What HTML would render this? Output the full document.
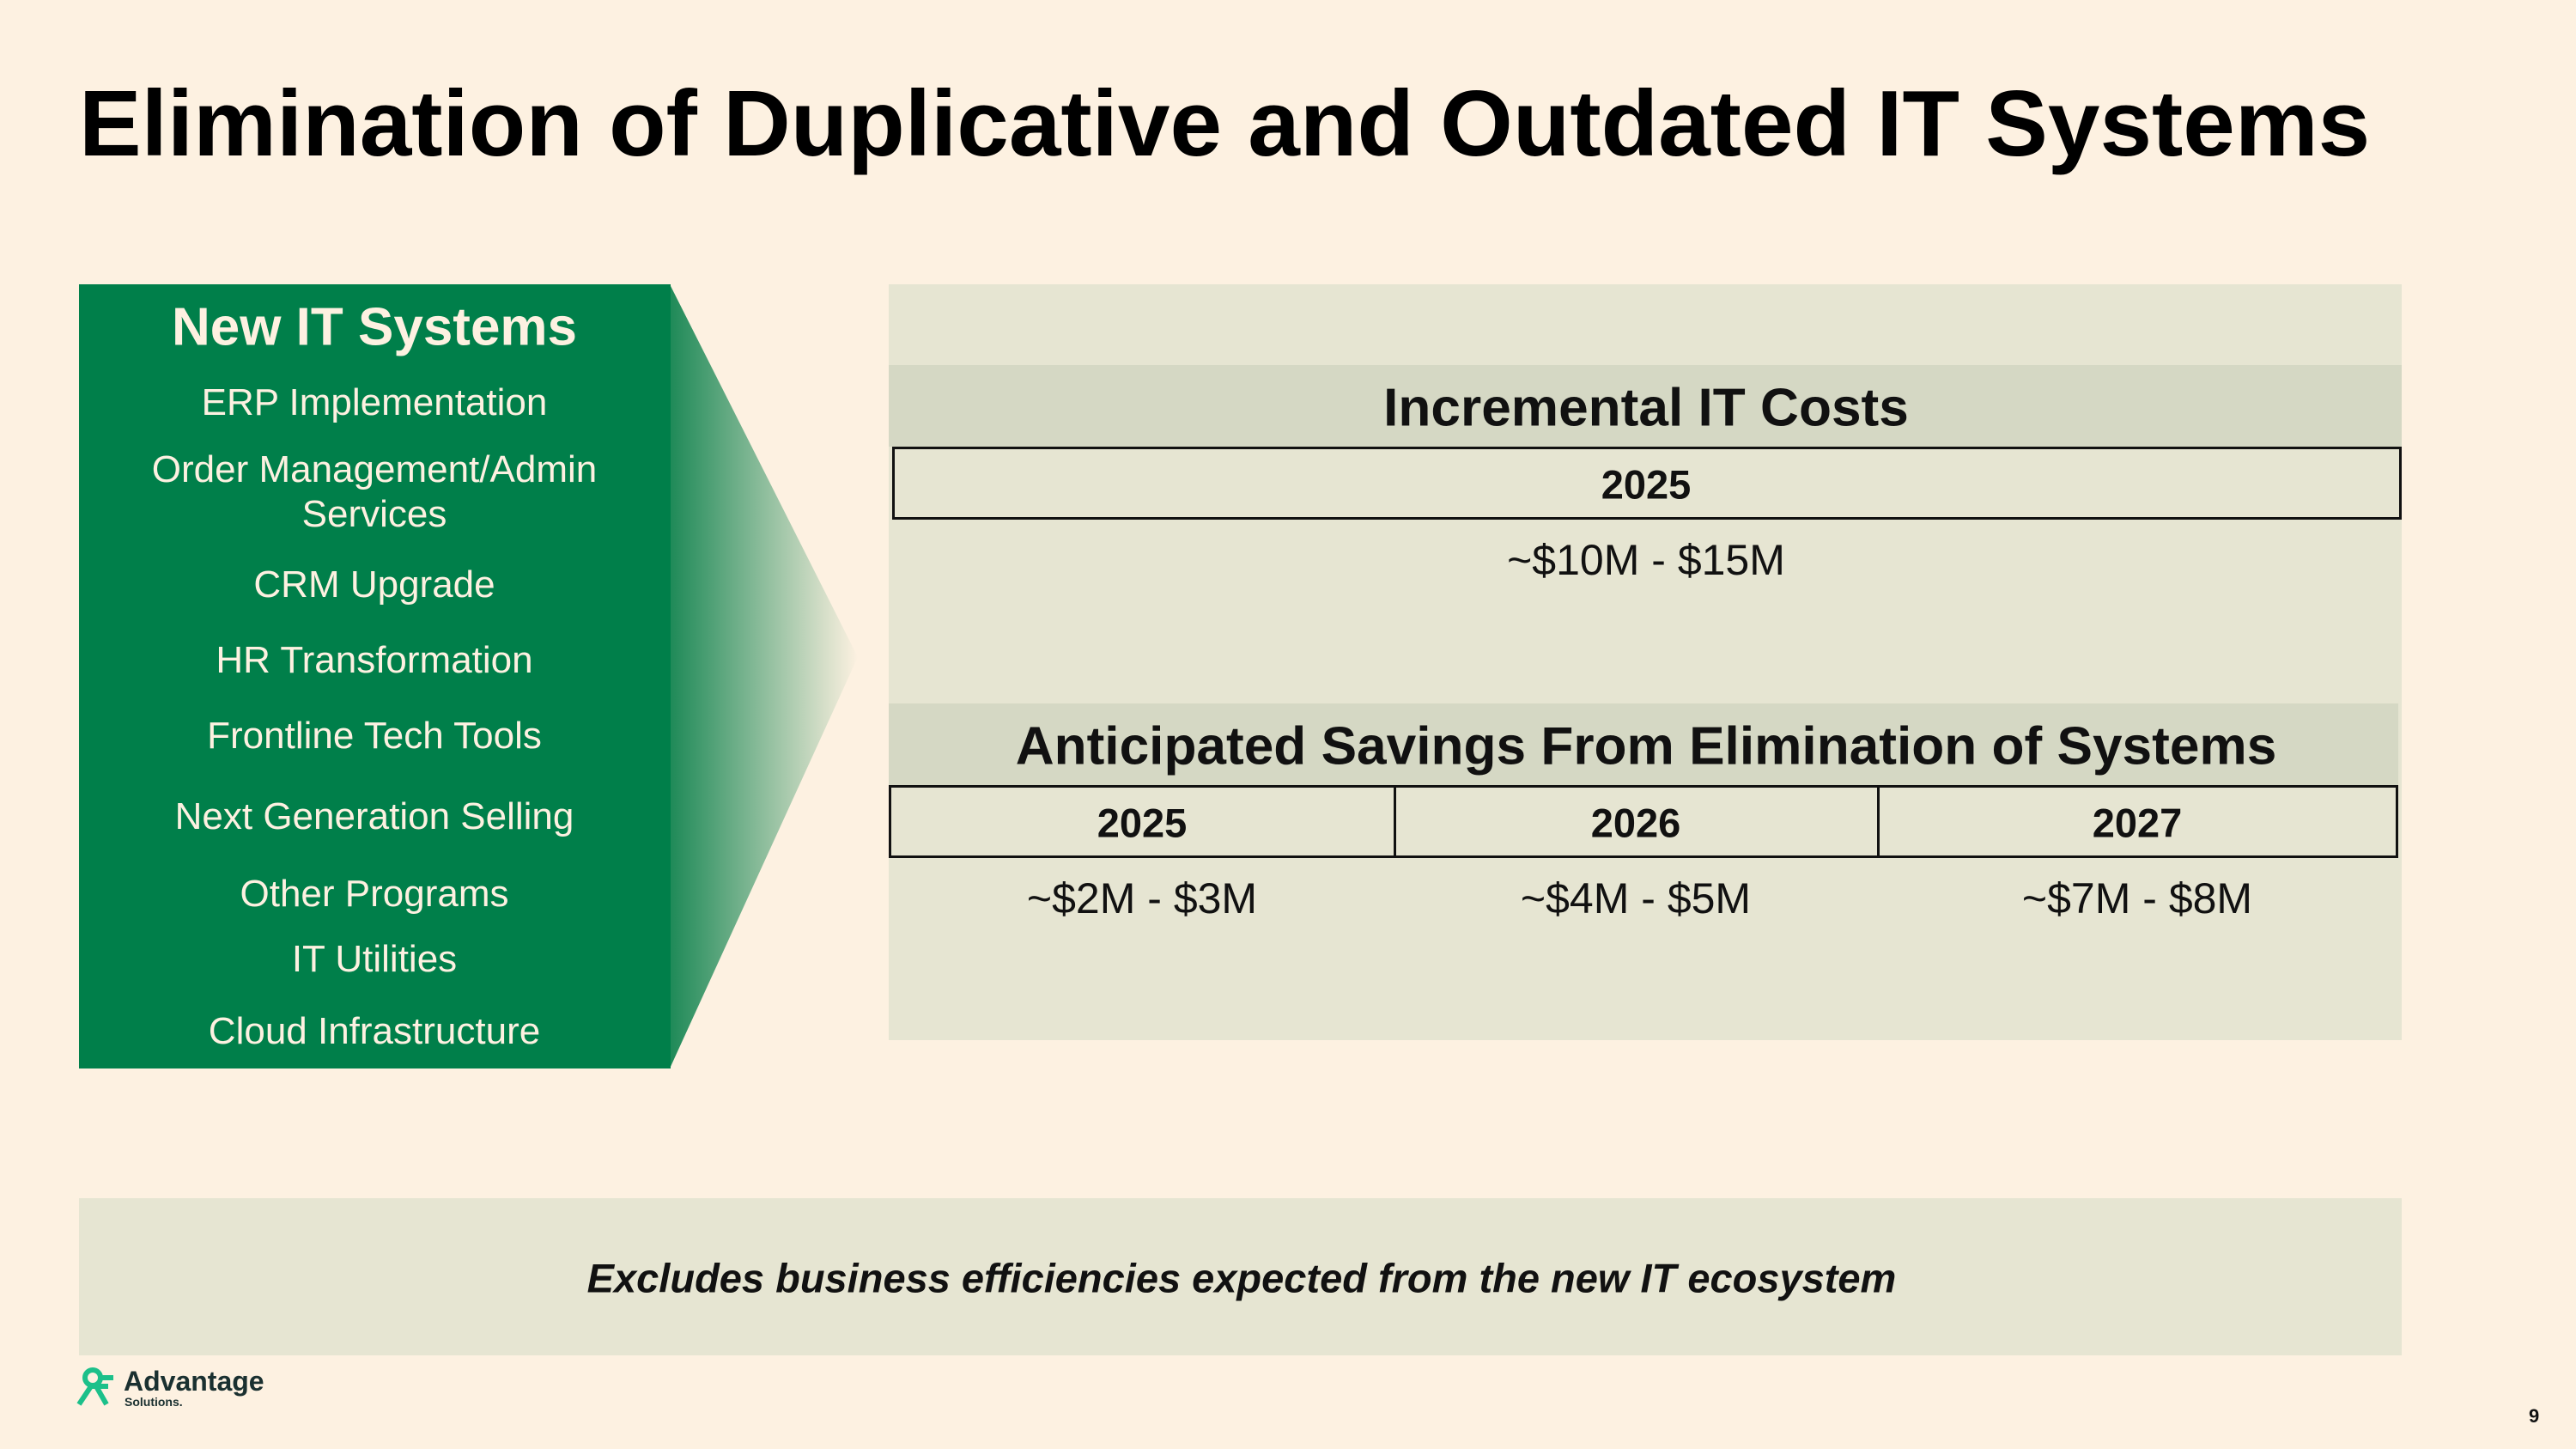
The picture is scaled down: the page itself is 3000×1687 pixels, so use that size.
<!DOCTYPE html>
<html><head><meta charset="utf-8"><style>
body{margin:0;width:3000px;height:1687px;background:#fdf1e1;font-family:"Liberation Sans",Arial,sans-serif;position:relative;overflow:hidden}
.a{position:absolute;white-space:nowrap}
.c{transform:translate(-50%,-50%)}
.li{color:#fdf1e1;font-size:44px;left:436px}
.hd{font-weight:bold;font-size:62.2px;color:#111}
.yr{font-weight:bold;font-size:47px;color:#111}
.v{font-size:50px;color:#111}
</style></head><body>
<div class="a" style="left:92px;top:84px;font-size:108.9px;font-weight:bold;color:#000;line-height:120px">Elimination of Duplicative and Outdated IT Systems</div>

<svg class="a" style="left:0;top:0" width="3000" height="1687">
<defs><linearGradient id="g" x1="781" x2="999" y1="0" y2="0" gradientUnits="userSpaceOnUse"><stop offset="0" stop-color="#1f8a58"/><stop offset="1" stop-color="#fdf1e1"/></linearGradient></defs>
<polygon points="780,331 999,765 780,1244" fill="url(#g)"/>
</svg>
<div class="a" style="left:92px;top:331px;width:689px;height:913px;background:#007f4a"></div>
<div class="a c li" style="top:381px;font-size:62px;font-weight:bold">New IT Systems</div>
<div class="a c li" style="top:469px">ERP Implementation</div>
<div class="a c li" style="top:547px">Order Management/Admin</div>
<div class="a c li" style="top:599px">Services</div>
<div class="a c li" style="top:681px">CRM Upgrade</div>
<div class="a c li" style="top:769px">HR Transformation</div>
<div class="a c li" style="top:857px">Frontline Tech Tools</div>
<div class="a c li" style="top:951px">Next Generation Selling</div>
<div class="a c li" style="top:1041px">Other Programs</div>
<div class="a c li" style="top:1117px">IT Utilities</div>
<div class="a c li" style="top:1201px">Cloud Infrastructure</div>

<div class="a" style="left:1035px;top:331px;width:1762px;height:880px;background:#e6e5d2"></div>
<div class="a" style="left:1035px;top:425px;width:1762px;height:95px;background:#d5d8c4"></div>
<div class="a c hd" style="left:1917px;top:475px">Incremental IT Costs</div>
<div class="a" style="left:1039px;top:520px;width:1752px;height:79px;border:3px solid #111"></div>
<div class="a c yr" style="left:1917px;top:564px">2025</div>
<div class="a c v" style="left:1917px;top:652px">~$10M - $15M</div>

<div class="a" style="left:1035px;top:819px;width:1758px;height:95px;background:#d5d8c4"></div>
<div class="a c hd" style="left:1917px;top:869px">Anticipated Savings From Elimination of Systems</div>
<div class="a" style="left:1035px;top:914px;width:1752px;height:79px;border:3px solid #111"></div>
<div class="a" style="left:1623px;top:914px;width:3px;height:85px;background:#111"></div>
<div class="a" style="left:2186px;top:914px;width:3px;height:85px;background:#111"></div>
<div class="a c yr" style="left:1330px;top:958px">2025</div>
<div class="a c yr" style="left:1905px;top:958px">2026</div>
<div class="a c yr" style="left:2489px;top:958px">2027</div>
<div class="a c v" style="left:1330px;top:1046px">~$2M - $3M</div>
<div class="a c v" style="left:1905px;top:1046px">~$4M - $5M</div>
<div class="a c v" style="left:2489px;top:1046px">~$7M - $8M</div>

<div class="a" style="left:92px;top:1395px;width:2705px;height:183px;background:#e6e5d2"></div>
<div class="a c" style="left:1446px;top:1488px;font-size:47px;font-weight:bold;font-style:italic;color:#111">Excludes business efficiencies expected from the new IT ecosystem</div>

<svg class="a" style="left:88px;top:1590px" width="50" height="48">
<circle cx="20" cy="14" r="9" fill="none" stroke="#1cc08a" stroke-width="6"/>
<path d="M4 45 L18 24 L38 24 M24 24 L36 45 M28 14 L44 14" fill="none" stroke="#1cc08a" stroke-width="6"/>
</svg>
<div class="a" style="left:144px;top:1592px;font-size:32px;font-weight:bold;color:#1a3030;line-height:32px">Advantage</div>
<div class="a" style="left:145px;top:1624px;font-size:14px;font-weight:bold;color:#1a3030">Solutions.</div>
<div class="a" style="left:2945px;top:1636px;font-size:22px;font-weight:bold;color:#111">9</div>
</body></html>
